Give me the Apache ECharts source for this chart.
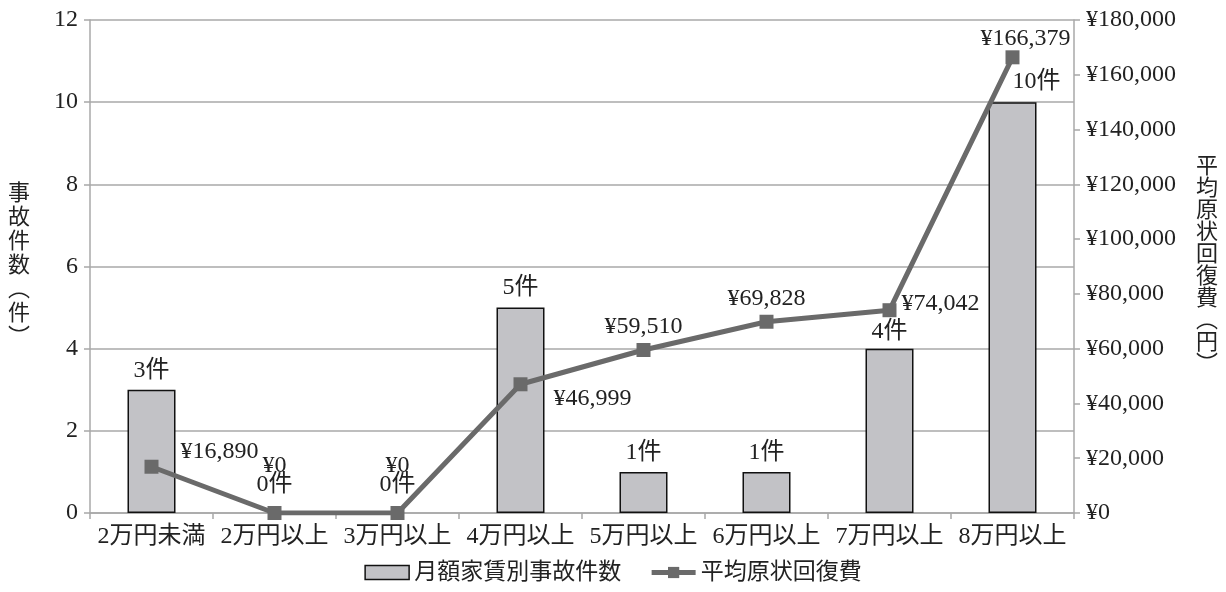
<!DOCTYPE html>
<html><head><meta charset="utf-8">
<script src="https://cdn.jsdelivr.net/npm/echarts@6/dist/echarts.min.js"></script>
<style>html,body{margin:0;padding:0;background:#fff}#c{width:1226px;height:592px}</style>
</head><body><div id="c"></div>
<script>
const categories = ['2万円未満','2万円以上','3万円以上','4万円以上','5万円以上','6万円以上','7万円以上','8万円以上'];
const accidentCounts = [3,0,0,5,1,1,4,10];
const avgRestorationCost = [16890,0,0,46999,59510,69828,74042,166379];
const barSeriesName = '月額家賃別事故件数';
const lineSeriesName = '平均原状回復費';
const leftAxisName = '事故件数︵件︶';
const rightAxisName = '平均原状回復費︵円︶';

const FONT = '"Liberation Serif", "DejaVu Serif", "Noto Sans CJK JP", serif';
const TXT = '#222';
const GRID = '#a8a8a8';
const FS = 24;
const FS_CJK = 23;
const yen = v => '¥' + v.toLocaleString('en-US');
const vert = s => s.split('').join('\n');

const linePlacement = [
  {position:'right', distance:22, offset:[0,-15]},
  {position:'top', distance:28},
  {position:'top', distance:28},
  {position:'right', distance:26, offset:[0,14]},
  {position:'top', distance:4},
  {position:'top', distance:4},
  {position:'right', distance:5, offset:[0,-7]},
  {position:'top', distance:0, offset:[13,0]}
];
const barPlacement = [
  {distance:7}, {distance:16}, {distance:16}, {distance:8},
  {distance:7}, {distance:7}, {distance:5}, {distance:8, offset:[24,0]}
];

const chart = echarts.init(document.getElementById('c'), null, {renderer:'canvas'});
chart.setOption({
  animation:false,
  backgroundColor:'#fff',
  textStyle:{fontFamily:FONT, color:TXT},
  grid:{left:90, right:152, top:20, bottom:79, containLabel:false},
  legend:{
    bottom:3, left:'center', itemGap:28, itemWidth:44, itemHeight:14,
    textStyle:{fontFamily:FONT, fontSize:FS_CJK, color:TXT},
    data:[
      {name:barSeriesName, icon:'rect', itemStyle:{borderWidth:1.5, borderColor:'#111'}},
      {name:lineSeriesName, lineStyle:{width:5}}
    ]
  },
  xAxis:{
    type:'category', data:categories,
    axisLine:{lineStyle:{color:GRID, width:1.5}},
    axisTick:{show:true, alignWithLabel:false, length:6, lineStyle:{color:GRID, width:1.5}},
    axisLabel:{fontFamily:FONT, fontSize:FS, color:TXT, margin:12, interval:0}
  },
  yAxis:[
    {
      type:'value', min:0, max:12, interval:2,
      name:vert(leftAxisName), nameLocation:'middle', nameGap:60, nameRotate:0,
      nameTextStyle:{fontFamily:FONT, fontSize:FS_CJK-1, color:TXT, lineHeight:24, padding:[44,0,0,0]},
      axisLine:{show:true, lineStyle:{color:GRID, width:1.5}},
      axisTick:{show:true, length:6, lineStyle:{color:GRID, width:1.5}},
      axisLabel:{fontFamily:FONT, fontSize:FS, color:TXT, margin:12},
      splitLine:{lineStyle:{color:GRID, width:1.5}}
    },
    {
      type:'value', min:0, max:180000, interval:20000,
      name:vert(rightAxisName), nameLocation:'middle', nameGap:122, nameRotate:0,
      nameTextStyle:{fontFamily:FONT, fontSize:FS_CJK-1, color:TXT, lineHeight:22, padding:[16,0,0,0]},
      axisLine:{show:true, lineStyle:{color:GRID, width:1.5}},
      axisTick:{show:true, length:6, lineStyle:{color:GRID, width:1.5}},
      axisLabel:{fontFamily:FONT, fontSize:FS, color:TXT, margin:12, formatter:yen},
      splitLine:{show:false}
    }
  ],
  series:[
    {
      name:barSeriesName, type:'bar', yAxisIndex:0, barWidth:48,
      data:accidentCounts.map((v,i)=>({value:v, label:barPlacement[i],
        itemStyle: v===0 ? {borderWidth:0} : undefined})),
      itemStyle:{color:'#c2c2c6', borderColor:'#111', borderWidth:1.5},
      label:{show:true, position:'top', formatter:p=>p.value+'件',
        fontFamily:FONT, fontSize:FS, color:TXT},
      z:2
    },
    {
      name:lineSeriesName, type:'line', yAxisIndex:1,
      data:avgRestorationCost.map((v,i)=>({value:v, label:linePlacement[i]})),
      lineStyle:{color:'#6a6a6a', width:5},
      itemStyle:{color:'#6a6a6a'},
      symbol:'rect', symbolSize:14,
      label:{show:true, formatter:p=>yen(p.value), fontFamily:FONT, fontSize:FS, color:TXT},
      z:3
    }
  ]
});
</script></body></html>
